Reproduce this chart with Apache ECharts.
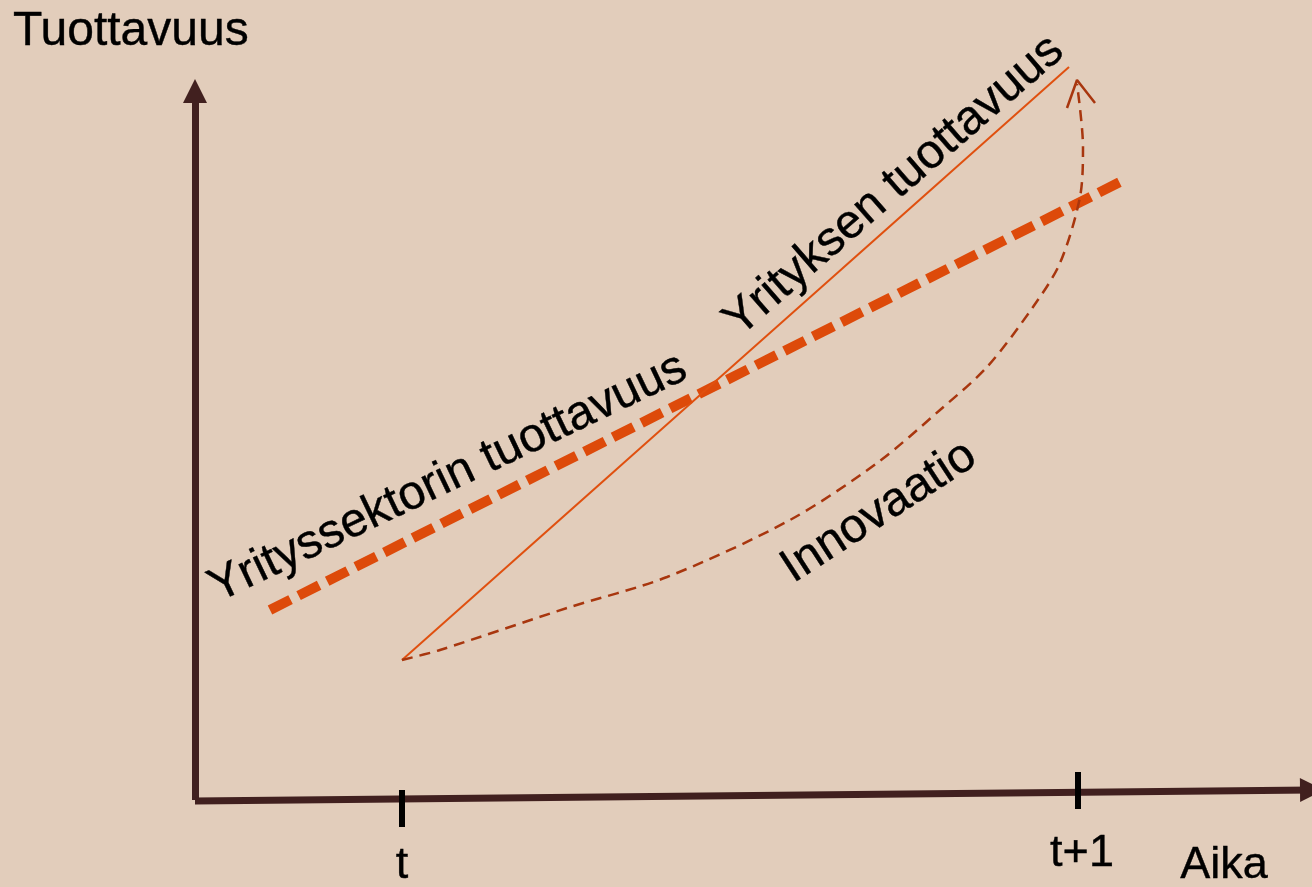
<!DOCTYPE html>
<html>
<head>
<meta charset="utf-8">
<title>Tuottavuus ja innovaatio</title>
<script src="https://cdn.jsdelivr.net/npm/echarts@6/dist/echarts.min.js"></script>
<style>
html, body { margin: 0; padding: 0; background: #e2cdbb; }
#chart { width: 1312px; height: 887px; }
</style>
</head>
<body>
<div id="chart"></div>
<script>
// koordinaatit origosta: x = px oikealle, y = px ylos
var yAxisLine = [[0, 0], [0, 709]];
var xAxisLine = [[0, -1], [1117, 10]];
var tickT = [[207, 10], [207, -27]];
var tickT1 = [[883, 28], [883, -9]];

var sektori = [[75, 190], [925, 618]];
var yritys = [[207, 140], [874, 733]];
var innovaatio = [
  [207, 140], [245, 150], [372, 192], [472, 223], [595, 280], [682, 337],
  [745, 390], [792, 433], [838, 493], [865, 537], [885, 603], [888, 653], [882, 716]
];
var nuolenKarki = [[872, 692], [882, 720], [900, 697]];

var tekstit = [
  { name: "Tuottavuus", value: [-182, 768], rotate: 0, align: "left", size: 48 },
  { name: "t", value: [207, -66], rotate: 0, align: "center", size: 45 },
  { name: "t+1", value: [887, -54], rotate: 0, align: "center", size: 45 },
  { name: "Aika", value: [1029, -66], rotate: 0, align: "center", size: 45 },
  { name: "Yrityssektorin tuottavuus", value: [253, 322], rotate: 25.5, align: "center", size: 48 },
  { name: "Yrityksen tuottavuus", value: [699, 614], rotate: 41, align: "center", size: 48 },
  { name: "Innovaatio", value: [684, 288], rotate: 33, align: "center", size: 48 }
];

var fontti = '"Liberation Sans", Arial, sans-serif';
var akseliVari = "#41201f";

let myChart = echarts.init(document.getElementById("chart"));
myChart.setOption({
  backgroundColor: "#e2cdbb",
  animation: false,
  grid: { left: 0, right: 0, top: 0, bottom: 0 },
  xAxis: { type: "value", min: -195, max: 1117, show: false },
  yAxis: { type: "value", min: -87, max: 800, show: false },
  series: [
    {
      // akselit ja jakoviivat
      type: "line",
      data: [],
      clip: false,
      markLine: {
        silent: true,
        animation: false,
        label: { show: false },
        symbol: ["none", "triangle"],
        symbolSize: [24, 24],
        lineStyle: { color: akseliVari, width: 7, type: "solid" },
        data: [
          [{ coord: yAxisLine[0] }, { coord: yAxisLine[1] }],
          [{ coord: xAxisLine[0] }, { coord: xAxisLine[1] }],
          [
            { coord: tickT[0], symbol: "none", lineStyle: { color: "#000", width: 6 } },
            { coord: tickT[1], symbol: "none" }
          ],
          [
            { coord: tickT1[0], symbol: "none", lineStyle: { color: "#000", width: 6 } },
            { coord: tickT1[1], symbol: "none" }
          ]
        ]
      }
    },
    {
      name: "Yrityssektorin tuottavuus",
      type: "line",
      data: sektori,
      showSymbol: false,
      clip: false,
      lineStyle: { color: "#dd4a0a", width: 10, type: [23, 9], cap: "butt" }
    },
    {
      name: "Yrityksen tuottavuus",
      type: "line",
      data: yritys,
      showSymbol: false,
      clip: false,
      lineStyle: { color: "#e0500f", width: 2 }
    },
    {
      name: "Innovaatio",
      type: "line",
      data: innovaatio,
      showSymbol: false,
      smooth: 0.3,
      clip: false,
      z: 3,
      lineStyle: { color: "#a8360e", width: 2.5, type: [11, 7] }
    },
    {
      // innovaatio-nuolen karki
      type: "line",
      data: nuolenKarki,
      showSymbol: false,
      clip: false,
      z: 3,
      lineStyle: { color: "#a8360e", width: 2.5 }
    },
    {
      // tekstit
      type: "scatter",
      symbolSize: 0,
      z: 5,
      itemStyle: { opacity: 1 },
      data: tekstit.map(function (t) {
        return {
          name: t.name,
          value: t.value,
          label: { rotate: t.rotate, align: t.align, fontSize: t.size }
        };
      }),
      label: {
        show: true,
        position: "inside",
        formatter: "{b}",
        color: "#000",
        opacity: 1,
        textBorderColor: "#000",
        textBorderWidth: 0.4,
        fontFamily: fontti,
        verticalAlign: "middle"
      }
    }
  ]
});
</script>
</body>
</html>
